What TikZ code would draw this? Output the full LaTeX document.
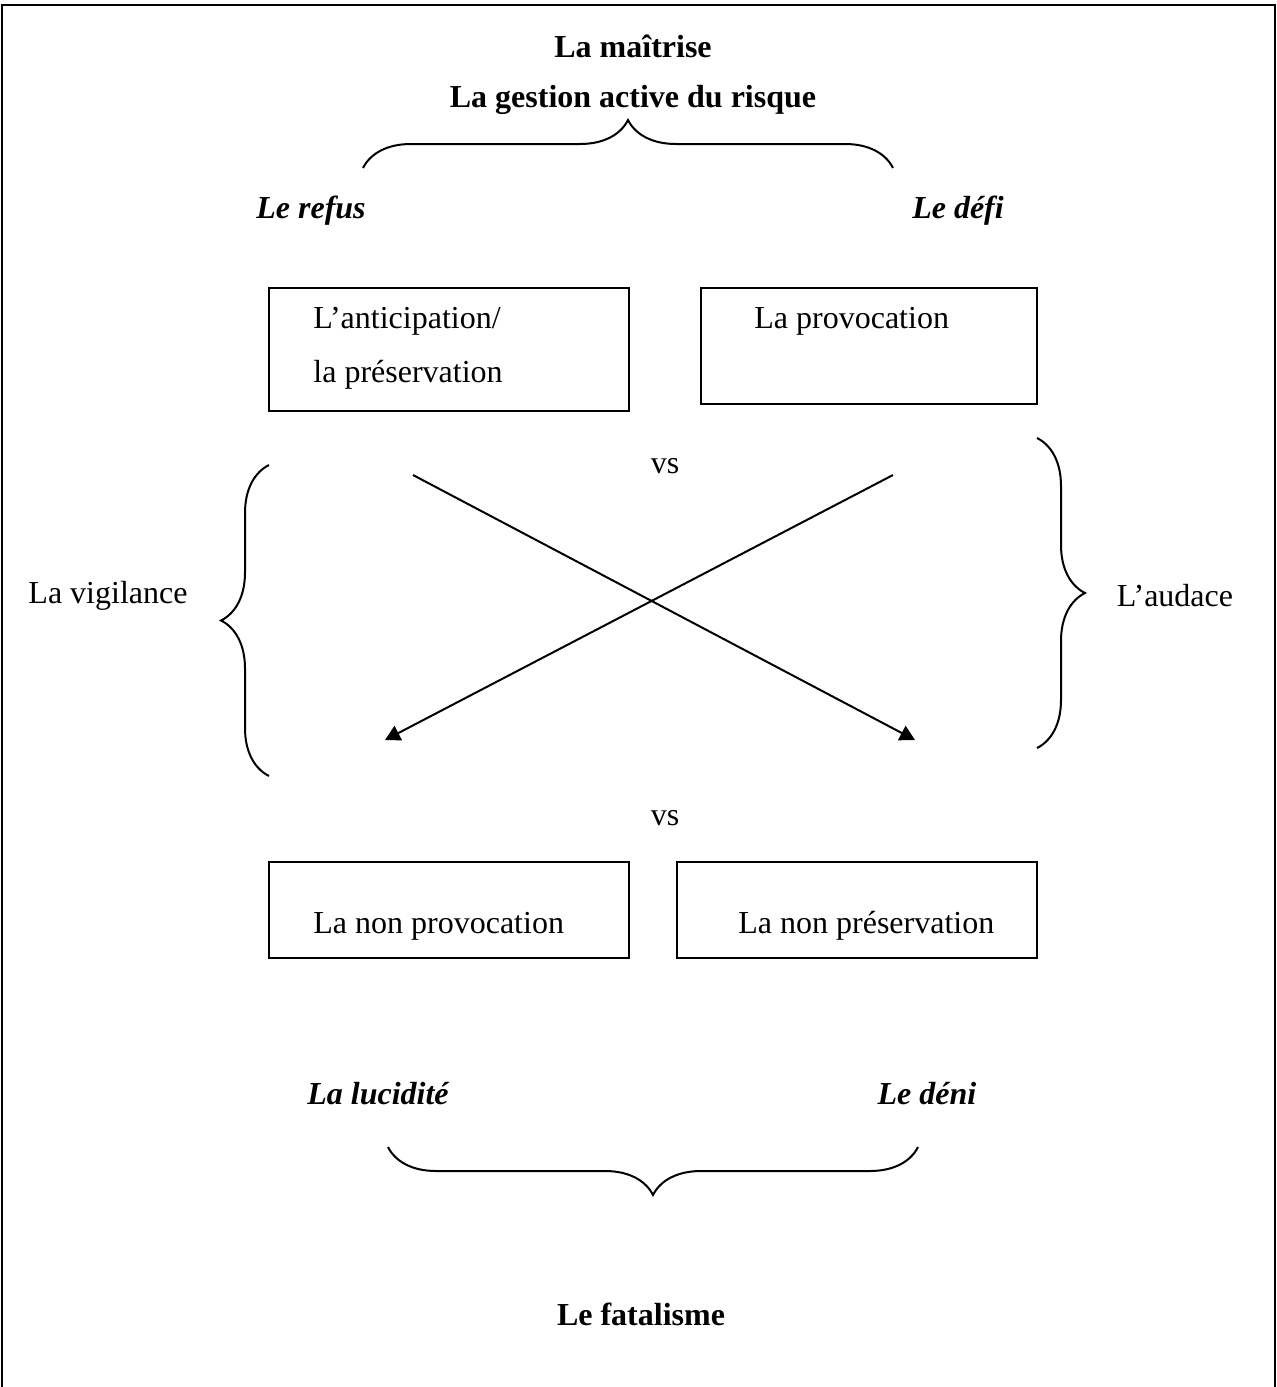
\documentclass[tikz,border=0pt]{standalone}
\usepackage{fontspec}
\setmainfont{Liberation Serif}
\usetikzlibrary{positioning,arrows.meta,decorations.pathreplacing}

\tikzset{
    texte/.style={font=\fontsize{16}{19}\selectfont},
    titre/.style={font=\fontsize{16}{19}\selectfont\bfseries},
    pole/.style={font=\fontsize{16}{19}\selectfont\bfseries\itshape},
    boite/.style={draw, line width=1pt, rectangle, inner sep=0pt},
    dedans/.style={texte, inner sep=0pt, anchor=west, align=left},
    accolade/.style={line width=1pt, decorate, decoration={brace, amplitude=24pt}},
    fleche/.style={line width=1pt, -{Triangle[length=7.5pt,width=8pt]}},
}

\begin{document}
\begin{tikzpicture}[x=0.5pt, y=-0.5pt]
    \useasboundingbox (0,0) rectangle (1277,1387);
    \draw[line width=1pt] (2,1387) -- (2,5) -- (1275,5) -- (1275,1387); % cadre

    % en haut
    \node[titre] (maitrise) at (633,46) {La maîtrise};
    \node[titre] (gestion) at (633,100) {La gestion active du risque};
    \draw[accolade] (363,168) -- (893,168);
    \node[pole] (refus) at (311,211) {Le refus};
    \node[pole] (defi) at (958,211) {Le défi};

    % boites du haut
    \node[boite, minimum width=180pt, minimum height=61.5pt] (anticip) at (449,349.5) {};
    \node[dedans, font=\fontsize{16}{27}\selectfont] (anticipT) at (313,348) {L’anticipation/\\la préservation};
    \node[boite, minimum width=168pt, minimum height=58pt] (provoc) at (869,346) {};
    \node[dedans] (provocT) at (754,321) {La provocation};

    % le croisement
    \coordinate (hautG) at (413,475);
    \coordinate (hautD) at (893,475);
    \coordinate (basG) at (385,740);
    \coordinate (basD) at (915,740);
    \draw[fleche] (hautG) -- (basD);
    \draw[fleche] (hautD) -- (basG);
    \node[texte] (vs1) at (665,466) {vs};
    \node[texte] (vs2) at (665,818) {vs};

    \draw[accolade] (269,776) -- (269,465);
    \draw[accolade] (1037,438) -- (1037,748);
    \node[texte] (vigilance) at (108,596) {La vigilance};
    \node[texte] (audace) at (1175,596) {L’audace};

    % boites du bas
    \node[boite, minimum width=180pt, minimum height=48pt] (nonprov) at (449,910) {};
    \node[dedans] (nonprovT) at (313,926) {La non provocation};
    \node[boite, minimum width=180pt, minimum height=48pt] (nonpres) at (857,910) {};
    \node[dedans] (nonpresT) at (738,926) {La non préservation};

    % en bas
    \node[pole] (lucidite) at (378,1094) {La lucidité};
    \node[pole] (deni) at (927,1094) {Le déni};
    \draw[accolade] (918,1147) -- (388,1147);
    \node[titre] (fatalisme) at (641,1314) {Le fatalisme};
\end{tikzpicture}
\end{document}
